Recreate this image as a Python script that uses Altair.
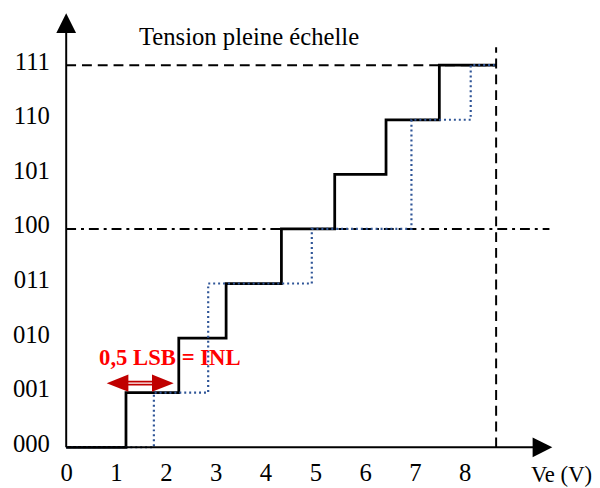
import altair as alt
import pandas as pd

# ---- data ----
y_labels = ["000", "001", "010", "011", "100", "101", "110", "111"]
x_ticks = [0, 1, 2, 3, 4, 5, 6, 7, 8]

# ideal-ish converter (solid) : transition voltages and codes
solid_x = [0, 1.20, 2.26, 3.21, 4.32, 5.39, 6.42, 7.49, 8.63]
solid_code = [0, 1, 2, 3, 4, 5, 6, 7, 7]
# real converter (dotted, missing codes)
dotted_x = [0, 1.76, 2.85, 4.93, 6.93, 8.12, 8.60]
dotted_code = [0, 1, 3, 4, 6, 7, 7]

full_scale_v = 8.63
full_scale_top = 7.33
top_code = 7
mid_code = 4
mid_end = 9.70
x_arrow = 9.56
y_arrow = 7.77

title_text = "Tension pleine échelle"
title_pos = (3.67, 7.37)
xlabel_text = "Ve (V)"
xlabel_pos = (9.33, -0.63)
inl_text = "0,5 LSB = INL"
inl_text_pos = (2.08, 1.50)
inl_left = 1.03
inl_right = 1.94
inl_level = 1.175

FONT = "Liberation Serif"

xs = alt.Scale(domain=[0, 10], nice=False, zero=False)
ys = alt.Scale(domain=[0, 7.5], nice=False, zero=False)

label_expr = "[" + ",".join(f"'{s}'" for s in y_labels) + "][datum.value]"

x_axis = alt.Axis(values=x_ticks, domain=False, ticks=False, tickSize=0, grid=False,
                  labelPadding=34, labelBaseline="alphabetic", labelFont=FONT,
                  labelFontSize=25, labelColor="black", labelFlush=False,
                  labelOverlap=False, title=None)
y_axis = alt.Axis(values=list(range(len(y_labels))), labelExpr=label_expr, domain=False,
                  ticks=False, tickSize=0, grid=False, labelPadding=17,
                  labelBaseline="middle", labelOffset=-4, labelFont=FONT,
                  labelFontSize=25, labelColor="black", title=None)


def X(field="x"):
    return alt.X(f"{field}:Q", scale=xs, axis=x_axis)


def Y(field="y"):
    return alt.Y(f"{field}:Q", scale=ys, axis=y_axis)


solid_df = pd.DataFrame({"x": solid_x, "y": solid_code, "i": range(len(solid_x))})
dotted_df = pd.DataFrame({"x": dotted_x, "y": dotted_code, "i": range(len(dotted_x))})

solid = alt.Chart(solid_df).mark_line(interpolate="step-after", color="black",
                                      strokeWidth=2.8).encode(x=X(), y=Y(), order="i:O")

dotted = alt.Chart(dotted_df).mark_line(interpolate="step-after", color="#2F5597",
                                        strokeWidth=2.2, strokeDash=[2, 3]).encode(
    x=X(), y=Y(), order="i:O")

# dashed full-scale lines
hdash_df = pd.DataFrame({"x": [0], "x2": [full_scale_v], "y": [top_code]})
hdash = alt.Chart(hdash_df).mark_rule(color="black", strokeWidth=2, strokeDash=[10, 6]).encode(
    x=X(), x2="x2:Q", y=Y())

vdash_df = pd.DataFrame({"x": [full_scale_v], "y": [0], "y2": [full_scale_top]})
vdash = alt.Chart(vdash_df).mark_rule(color="black", strokeWidth=2, strokeDash=[10, 6]).encode(
    x=X(), y=Y(), y2="y2:Q")

mid_df = pd.DataFrame({"x": [0], "x2": [mid_end], "y": [mid_code]})
middash = alt.Chart(mid_df).mark_rule(color="black", strokeWidth=2,
                                      strokeDash=[10, 5, 3, 5]).encode(
    x=X(), x2="x2:Q", y=Y())

# axes with arrows
xaxis_df = pd.DataFrame({"x": [0], "x2": [x_arrow], "y": [0]})
xaxis_line = alt.Chart(xaxis_df).mark_rule(color="black", strokeWidth=2).encode(
    x=X(), x2="x2:Q", y=Y())
yaxis_df = pd.DataFrame({"x": [0], "y": [0], "y2": [y_arrow]})
yaxis_line = alt.Chart(yaxis_df).mark_rule(color="black", strokeWidth=2).encode(
    x=X(), y=Y(), y2="y2:Q")

up_df = pd.DataFrame({"x": [0], "y": [y_arrow]})
up_arrow = alt.Chart(up_df).mark_point(shape="M0,-1L1,1L-1,1Z", filled=True, size=400,
                                       color="black", opacity=1, strokeWidth=0).encode(
    x=X(), y=Y())
right_df = pd.DataFrame({"x": [x_arrow], "y": [0]})
right_arrow = alt.Chart(right_df).mark_point(shape="M1,0L-1,-1L-1,1Z", filled=True, size=400,
                                             color="black", opacity=1, strokeWidth=0).encode(
    x=X(), y=Y())

# red INL arrow
shaft_df = pd.DataFrame({"x": [inl_left], "x2": [inl_right], "y": [inl_level]})
shaft = alt.Chart(shaft_df).mark_rule(color="#C00000", strokeWidth=5).encode(
    x=X(), x2="x2:Q", y=Y())
shaft_in = alt.Chart(shaft_df).mark_rule(color="white", strokeWidth=1.5).encode(
    x=X(), x2="x2:Q", y=Y())
lh_df = pd.DataFrame({"x": [inl_left], "y": [inl_level]})
left_head = alt.Chart(lh_df).mark_point(shape="M-1,0L1,-0.8L1,0.8Z", filled=True, size=484,
                                        color="#C00000", opacity=1, strokeWidth=0).encode(
    x=X(), y=Y())
rh_df = pd.DataFrame({"x": [inl_right], "y": [inl_level]})
right_head = alt.Chart(rh_df).mark_point(shape="M1,0L-1,-0.8L-1,0.8Z", filled=True, size=484,
                                         color="#C00000", opacity=1, strokeWidth=0).encode(
    x=X(), y=Y())


# texts
def text_layer(txt, pos, **kw):
    df = pd.DataFrame({"x": [pos[0]], "y": [pos[1]], "t": [txt]})
    return alt.Chart(df).mark_text(font=FONT, baseline="alphabetic", **kw).encode(
        x=X(), y=Y(), text="t:N")


title = text_layer(title_text, title_pos, align="center", fontSize=25, color="black")
xlabel = text_layer(xlabel_text, xlabel_pos, align="left", fontSize=23, color="black")
inl = text_layer(inl_text, inl_text_pos, align="center", fontSize=23, fontWeight="bold",
                 color="#FF0000")

chart = alt.layer(
    solid, middash, hdash, vdash, dotted, xaxis_line, yaxis_line, up_arrow, right_arrow,
    shaft, shaft_in, left_head, right_head, title, xlabel, inl
).properties(
    width=505, height=415,
    autosize=alt.AutoSizeParams(type="none"),
    padding={"left": 59, "top": 27, "right": 28, "bottom": 38},
    background="white",
).configure_view(stroke=None)

chart.save("out.html", embed_options={"renderer": "svg", "actions": False})
